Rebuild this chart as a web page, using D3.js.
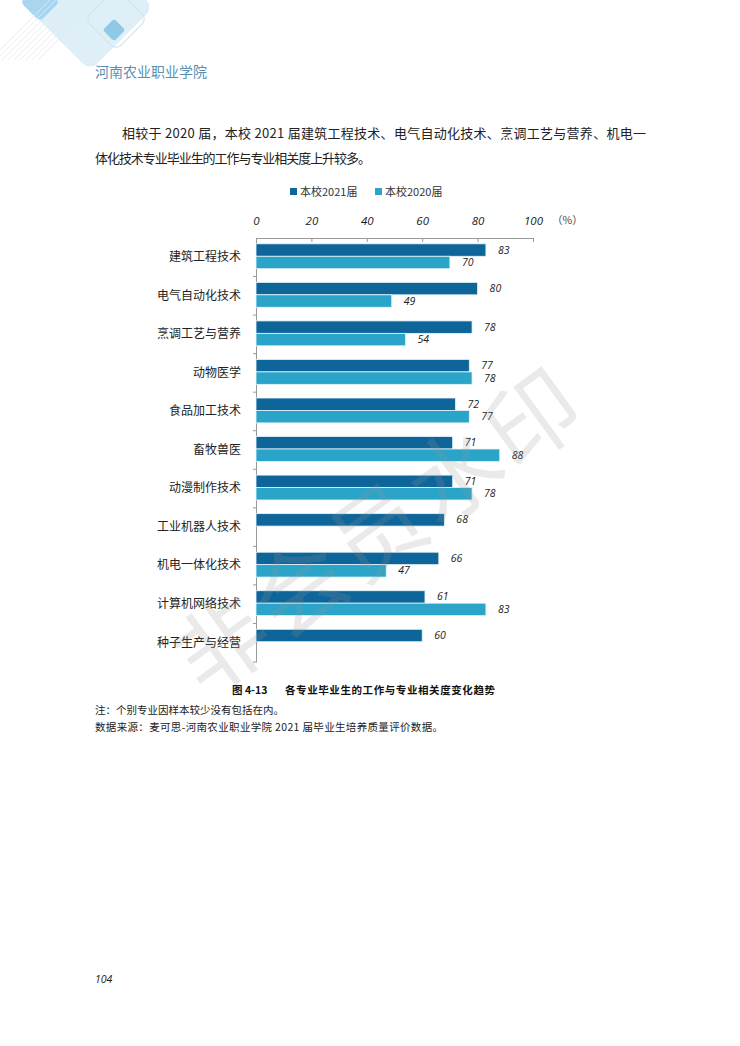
<!DOCTYPE html>
<html>
<head>
<meta charset="utf-8">
<script src="https://cdn.jsdelivr.net/npm/d3@7"></script>
<style>
  body { margin: 0; background: #fff; }
  svg { display: block; }
  .cjk { font-family: "Noto Sans CJK SC", sans-serif; }
  .num { font-family: "Open Sans", "Liberation Sans", sans-serif; font-style: italic; }
</style>
</head>
<body>
<div id="chart"></div>
<script>
// majors, top to bottom
var majors = ['建筑工程技术', '电气自动化技术', '烹调工艺与营养', '动物医学', '食品加工技术',
  '畜牧兽医', '动漫制作技术', '工业机器人技术', '机电一体化技术', '计算机网络技术', '种子生产与经营'];
var values2021 = [83, 80, 78, 77, 72, 71, 71, 68, 66, 61, 60];
var values2020 = [70, 49, 54, 78, 77, 88, 78, null, 47, 83, null];
var seriesNames = ['本校2021届', '本校2020届'];
var xTicks = [0, 20, 40, 60, 80, 100];

var W = 740, H = 1046;
var colors = ['#0d6599', '#2aa4c8'];

var svg = d3.select('#chart').append('svg')
  .attr('width', W)
  .attr('height', H);

// page decoration top-left
var deco = svg.append('g');
deco.append('rect').attr('x', -40).attr('y', -40).attr('width', 90).attr('height', 90).attr('rx', 10)
  .attr('fill', '#deeff8').attr('transform', 'translate(90,0) rotate(45)');
deco.append('rect').attr('x', -14).attr('y', -14).attr('width', 28).attr('height', 28).attr('rx', 5)
  .attr('fill', '#a9d6ee').attr('transform', 'translate(40,2) rotate(45)');
deco.append('rect').attr('x', -22).attr('y', -22).attr('width', 44).attr('height', 44).attr('rx', 7)
  .attr('fill', 'none').attr('stroke', '#d3e4ee').attr('stroke-width', 1.2)
  .attr('transform', 'translate(116,19) rotate(45)');
deco.append('rect').attr('x', -8).attr('y', -8).attr('width', 16).attr('height', 16).attr('rx', 3)
  .attr('fill', '#8ec9e8').attr('transform', 'translate(114,30) rotate(45)');
for (var i = 0; i < 9; i++) {
  deco.append('line')
    .attr('x1', -10 + i * 6).attr('y1', 60)
    .attr('x2', 50 + i * 6).attr('y2', 0)
    .attr('stroke', '#e3e8ec').attr('stroke-width', 0.8);
}

svg.append('text').attr('class', 'cjk')
  .attr('x', 95).attr('y', 77)
  .attr('font-size', 14).attr('fill', '#5a8fb0')
  .text('河南农业职业学院');

// paragraph
svg.append('text').attr('class', 'cjk')
  .attr('x', 122).attr('y', 138)
  .attr('font-size', 13).attr('fill', '#222')
  .attr('textLength', 524).attr('lengthAdjust', 'spacing')
  .text('相较于 2020 届，本校 2021 届建筑工程技术、电气自动化技术、烹调工艺与营养、机电一');
svg.append('text').attr('class', 'cjk')
  .attr('x', 95).attr('y', 163)
  .attr('font-size', 13).attr('fill', '#222')
  .attr('textLength', 276).attr('lengthAdjust', 'spacing')
  .text('体化技术专业毕业生的工作与专业相关度上升较多。');

// chart area
var x = d3.scaleLinear().domain([0, 100]).range([256, 533]);
var y = d3.scaleBand().domain(majors).range([238, 662]);
var sub = d3.scaleBand().domain([0, 1]).range([0, y.bandwidth()]).paddingOuter(0.55).paddingInner(0);

// legend
var legend = svg.append('g').attr('class', 'cjk');
var legendX = [290, 375];
seriesNames.forEach(function(name, i) {
  legend.append('rect').attr('x', legendX[i]).attr('y', 188)
    .attr('width', 7).attr('height', 7).attr('fill', colors[i]);
  legend.append('text').attr('x', legendX[i] + 10).attr('y', 196)
    .attr('font-size', 11).attr('fill', '#333').text(name);
});

// top axis
var axis = svg.append('g')
  .attr('transform', 'translate(0,238)')
  .call(d3.axisTop(x).tickValues(xTicks).tickSizeInner(-4).tickSizeOuter(-4).tickPadding(13));
axis.select('.domain').attr('stroke', '#999');
axis.selectAll('.tick line').attr('stroke', '#999');
axis.selectAll('.tick text').attr('class', 'num').attr('font-size', 11.5).attr('fill', '#222');
svg.append('text').attr('class', 'cjk')
  .attr('x', 552).attr('y', 224).attr('font-size', 10.5).attr('fill', '#444')
  .text('（%）');

// left axis
var left = svg.append('g')
  .attr('transform', 'translate(256,0)')
  .call(d3.axisLeft(y).tickSize(0).tickPadding(15));
left.select('.domain').attr('stroke', '#999');
left.selectAll('.tick text').attr('class', 'cjk').attr('font-size', 12).attr('fill', '#222');
svg.append('g').selectAll('line')
  .data(majors.slice(1).concat(['end']))
  .enter().append('line')
  .attr('x1', 253).attr('x2', 256)
  .attr('y1', function(d, i) { return y.range()[0] + y.step() * (i + 1); })
  .attr('y2', function(d, i) { return y.range()[0] + y.step() * (i + 1); })
  .attr('stroke', '#999');

// bars
var rows = majors.map(function(m, i) {
  return { major: m, vals: [values2021[i], values2020[i]] };
});
var groups = svg.append('g').selectAll('g')
  .data(rows)
  .enter().append('g')
  .attr('transform', function(d) { return 'translate(0,' + (y(d.major) - 1) + ')'; });

groups.each(function(d) {
  var g = d3.select(this);
  d.vals.forEach(function(v, i) {
    if (v == null) return;
    g.append('rect')
      .attr('x', x(0)).attr('y', sub(i))
      .attr('width', x(v) - x(0)).attr('height', sub.bandwidth())
      .attr('fill', colors[i])
      .attr('stroke', '#e6f4fa').attr('stroke-width', 0.8);
    g.append('text').attr('class', 'num')
      .attr('x', x(v) + 12).attr('y', sub(i) + sub.bandwidth() / 2 + 3.5)
      .attr('font-size', 10.5).attr('fill', '#222')
      .text(v);
  });
});

// watermark
svg.append('text').attr('class', 'cjk')
  .attr('transform', 'translate(375,525) rotate(-36)')
  .attr('text-anchor', 'middle').attr('dominant-baseline', 'central')
  .attr('font-size', 92).attr('letter-spacing', 4)
  .attr('fill', 'rgba(150,150,150,0.2)')
  .text('非会员水印');

// caption & notes
svg.append('text').attr('class', 'cjk')
  .attr('x', 232).attr('y', 694).attr('font-size', 10.5).attr('font-weight', 'bold').attr('fill', '#111')
  .text('图  4-13');
svg.append('text').attr('class', 'cjk')
  .attr('x', 285).attr('y', 694).attr('font-size', 10.5).attr('font-weight', 'bold').attr('fill', '#111')
  .attr('textLength', 210).attr('lengthAdjust', 'spacing')
  .text('各专业毕业生的工作与专业相关度变化趋势');
svg.append('text').attr('class', 'cjk')
  .attr('x', 95).attr('y', 714).attr('font-size', 10.5).attr('fill', '#222')
  .text('注：个别专业因样本较少没有包括在内。');
svg.append('text').attr('class', 'cjk')
  .attr('x', 95).attr('y', 731).attr('font-size', 10.5).attr('fill', '#222')
  .attr('textLength', 348).attr('lengthAdjust', 'spacing')
  .text('数据来源：麦可思-河南农业职业学院 2021 届毕业生培养质量评价数据。');

svg.append('text').attr('class', 'num')
  .attr('x', 95).attr('y', 983).attr('font-size', 10.5).attr('fill', '#222')
  .text('104');
</script>
</body>
</html>
